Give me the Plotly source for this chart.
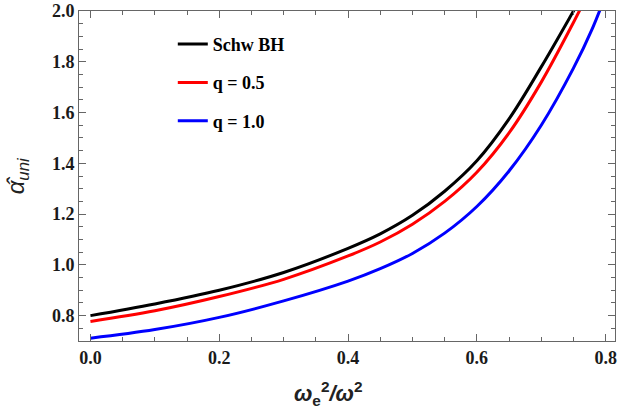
import plotly.graph_objects as go

# data
x_schw = [0.0, 0.1, 0.2, 0.3, 0.4, 0.45, 0.5, 0.55, 0.6, 0.65, 0.7, 0.75, 0.76]
y_schw = [0.800, 0.846, 0.900, 0.970, 1.065, 1.122, 1.195, 1.290, 1.410, 1.575, 1.780, 2.000, 2.045]

x_q05 = [0.0, 0.1, 0.2, 0.3, 0.4, 0.45, 0.5, 0.55, 0.6, 0.65, 0.7, 0.75, 0.765]
y_q05 = [0.777, 0.819, 0.875, 0.943, 1.035, 1.090, 1.160, 1.250, 1.365, 1.520, 1.720, 1.955, 2.030]

x_q10 = [0.0, 0.1, 0.2, 0.3, 0.4, 0.45, 0.5, 0.55, 0.6, 0.65, 0.7, 0.75, 0.78, 0.795]
y_q10 = [0.711, 0.745, 0.793, 0.858, 0.936, 0.985, 1.045, 1.125, 1.230, 1.370, 1.550, 1.775, 1.935, 2.030]

names = ["Schw BH", "q = 0.5", "q = 1.0"]
colors = ["#000000", "#ff0000", "#0000ff"]

x_ticks = [0.0, 0.2, 0.4, 0.6, 0.8]
x_ticklabels = ["0.0", "0.2", "0.4", "0.6", "0.8"]
y_ticks = [0.8, 1.0, 1.2, 1.4, 1.6, 1.8, 2.0]
y_ticklabels = ["0.8", "1.0", "1.2", "1.4", "1.6", "1.8", "2.0"]

fig = go.Figure()
for i, (xs, ys) in enumerate([(x_schw, y_schw), (x_q05, y_q05), (x_q10, y_q10)]):
    fig.add_trace(go.Scatter(
        x=xs, y=ys, mode="lines", name=f"<b>{names[i]}</b>",
        line=dict(color=colors[i], width=3, shape="spline", smoothing=1.0),
        legendgroup=f"g{i}",
    ))

tickfont = dict(family="Liberation Serif", size=18, color="#1a1a1a")
axis_common = dict(
    showline=True, linecolor="#666666", linewidth=1, mirror="ticks",
    ticks="inside", ticklen=7, tickcolor="#666666", tickwidth=1,
    showgrid=False, zeroline=False, tickfont=tickfont,
    ticklabeloverflow="allow",
)

fig.update_xaxes(
    range=[-0.0178, 0.8145], tickvals=x_ticks, ticktext=[f"<b>{t}</b>" for t in x_ticklabels],
    minor=dict(dtick=0.05, tick0=0, ticks="inside", ticklen=4, tickcolor="#666666"),
    **axis_common,
)
fig.update_yaxes(
    range=[0.7, 2.0002], tickvals=y_ticks, ticktext=[f"<b>{t}</b>" for t in y_ticklabels],
    minor=dict(dtick=0.05, tick0=0, ticks="inside", ticklen=4, tickcolor="#666666"),
    **axis_common,
)

fig.update_layout(
    width=618, height=410,
    margin=dict(l=79, r=1, t=7, b=69),
    plot_bgcolor="white", paper_bgcolor="white",
    showlegend=True,
    legend=dict(
        x=0.175, y=0.955, xanchor="left", yanchor="top",
        font=dict(family="Liberation Serif", size=18, color="#000000"),
        bgcolor="rgba(0,0,0,0)", tracegroupgap=12,
        itemwidth=30,
    ),
    annotations=[
        dict(text="<b><i>ω</i></b><sub><b>e</b></sub><sup><b>2</b></sup><b><i>/ω</i></b><sup><b>2</b></sup>",
             xref="paper", yref="paper", x=0.466, y=-0.16, xanchor="center", yanchor="middle",
             showarrow=False, font=dict(family="Liberation Sans", size=22, color="#222222")),
        dict(text="<i>α̂</i><sub><i>uni</i></sub>",
             xref="paper", yref="paper", x=-0.115, y=0.5, xanchor="center", yanchor="middle",
             textangle=-90, showarrow=False,
             font=dict(family="Liberation Sans", size=24, color="#222222")),
    ],
)

fig.write_html("out.html", config={"displayModeBar": False},
               post_script="document.body.style.margin='0px';")
